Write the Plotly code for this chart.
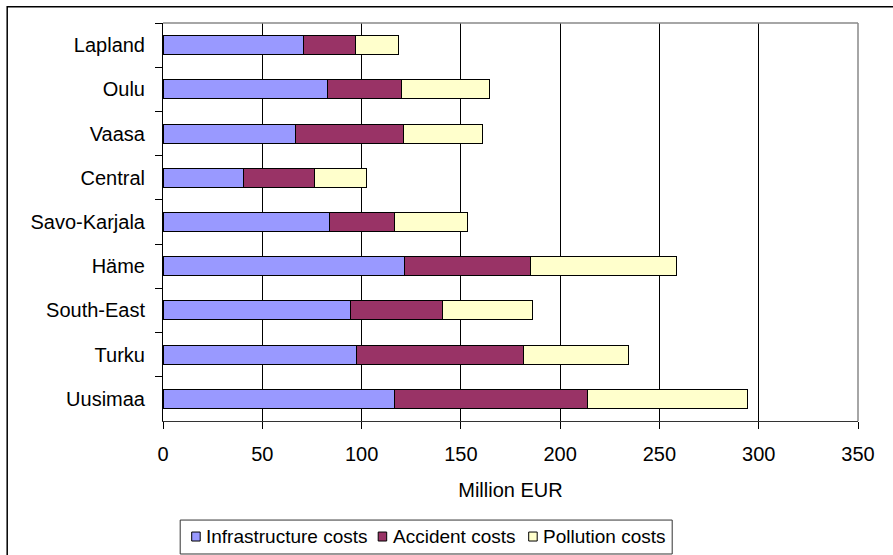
import plotly.graph_objects as go

regions = ["Lapland", "Oulu", "Vaasa", "Central", "Savo-Karjala", "Häme", "South-East", "Turku", "Uusimaa"]
infrastructure = [71.0, 82.8, 66.7, 40.3, 83.6, 121.5, 94.5, 97.4, 116.5]
accident = [25.7, 37.4, 54.3, 35.9, 32.9, 63.7, 46.2, 84.1, 97.4]
pollution = [22.0, 44.0, 40.1, 26.4, 36.6, 73.3, 45.3, 52.8, 80.4]
series_names = ["Infrastructure costs", "Accident costs", "Pollution costs"]
series_colors = ["#9999FF", "#993366", "#FFFFCC"]
x_ticks = [0, 50, 100, 150, 200, 250, 300, 350]

FONT = "Arial, Liberation Sans, sans-serif"
W, H = 893, 555
L, R, T, B = 163.3, 34.7, 22.7, 133.7
pw, ph = W - L - R, H - T - B

def px(x):
    return (x - L) / pw

def py(y):
    return (H - B - y) / ph

fig = go.Figure()
for name, vals, col in zip(series_names, [infrastructure, accident, pollution], series_colors):
    fig.add_trace(go.Bar(y=regions, x=vals, name=name, orientation="h", showlegend=False,
                         marker=dict(color=col, line=dict(color="#000000", width=1))))

shapes = [
    # plot area border (top and right, grey)
    dict(type="line", xref="paper", yref="paper", x0=0, x1=1, y0=1, y1=1,
         line=dict(color="#888888", width=1.5), layer="above"),
    dict(type="line", xref="paper", yref="paper", x0=1, x1=1, y0=0, y1=1,
         line=dict(color="#888888", width=1.5), layer="above"),
    # outer chart border
    dict(type="rect", xref="paper", yref="paper", x0=px(7.5), x1=px(910),
         y0=py(570), y1=py(6.5), line=dict(color="#000000", width=1.5), layer="below"),
    # legend box
    dict(type="rect", xref="paper", yref="paper", x0=px(180.5), x1=px(672.5),
         y0=py(554.5), y1=py(520.5), line=dict(color="#333333", width=1),
         fillcolor="white", layer="above"),
]
annotations = []
sym_x = [192, 378.5, 529]
txt_x = [204, 391, 541]
ly = 537
for name, col, sx, tx in zip(series_names, series_colors, sym_x, txt_x):
    shapes.append(dict(type="rect", xref="paper", yref="paper", x0=px(sx), x1=px(sx + 8.5),
                       y0=py(ly + 4.5), y1=py(ly - 4.5), fillcolor=col,
                       line=dict(color="#000000", width=1), layer="above"))
    annotations.append(dict(text=name, xref="paper", yref="paper", x=px(tx), y=py(ly),
                            xanchor="left", yanchor="middle", showarrow=False,
                            font=dict(size=19, family=FONT, color="#000000")))

fig.update_layout(
    width=W, height=H, barmode="stack", bargap=0.57, showlegend=False,
    margin=dict(l=L, r=R, t=T, b=B, autoexpand=False),
    paper_bgcolor="white", plot_bgcolor="white",
    font=dict(family=FONT, size=20, color="#000000"),
    xaxis=dict(range=[0, 350], tickvals=x_ticks, ticks="outside", ticklen=7,
               tickcolor="#000000", showline=True, linecolor="#333333", linewidth=1,
               showgrid=True, gridcolor="#000000", gridwidth=1, zeroline=False,
               ticklabelstandoff=8,
               title=dict(text="Million EUR", font=dict(size=20), standoff=18),
               tickfont=dict(size=20)),
    yaxis=dict(autorange="reversed", ticks="outside", ticklen=7, tickcolor="#000000",
               tickson="boundaries", showline=True, linecolor="#000000", linewidth=1,
               showgrid=False, tickfont=dict(size=20), ticklabelstandoff=13),
    shapes=shapes,
    annotations=annotations,
)

fig.write_html("out.html")
